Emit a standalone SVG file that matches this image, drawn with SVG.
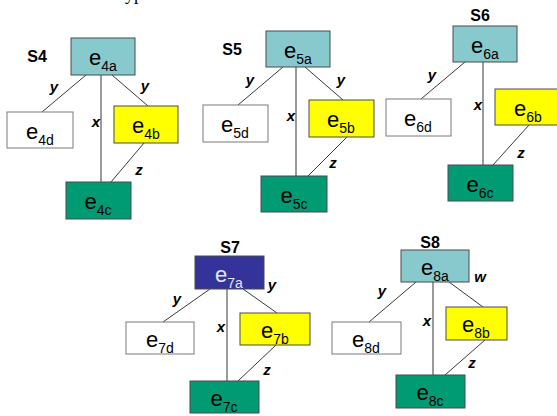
<svg xmlns="http://www.w3.org/2000/svg" width="557" height="416" viewBox="0 0 557 416">
  <style>
    .box { stroke: #4a4a4a; stroke-width: 1; }
    .teal { fill: #88C9CD; }
    .yellow { fill: #FFFF00; }
    .green { fill: #009B72; }
    .white { fill: #FFFFFF; stroke: #7a7a7a; }
    .navy { fill: #333399; }
    .lbl { font-family: "Liberation Sans", Arial, sans-serif; font-size: 22px; fill: #000; text-anchor: middle; }
    .lbl tspan { font-size: 14px; }
    .lbl.light { fill: #E6E6FF; }
    .edge { font-family: "Liberation Sans", Arial, sans-serif; font-size: 15px; font-weight: bold; font-style: italic; fill: #000; text-anchor: middle; }
    .title { font-family: "Liberation Sans", Arial, sans-serif; font-size: 16px; font-weight: bold; fill: #000; text-anchor: middle; }
    .diag { stroke: #3a3a3a; stroke-width: 1; fill: none; }
    .vert { stroke: #9a9a9a; stroke-width: 2; fill: none; }
  </style>

  <rect width="557" height="416" fill="#FFFFFF"/>

  <!-- descenders of a heading line cut off by the top edge -->
  <text x="134" y="0" font-family="'Liberation Serif', serif" font-size="18" text-anchor="middle" fill="#000">yp</text>

  <!-- connectors -->
  <g id="connectors">
    <!-- S4 -->
    <line class="diag" x1="86" y1="75" x2="42" y2="112"/>
    <line class="diag" x1="112" y1="75" x2="148" y2="106"/>
    <line class="vert" x1="101" y1="75" x2="101" y2="182"/>
    <line class="diag" x1="144" y1="143" x2="111" y2="182"/>
    <!-- S5 -->
    <line class="diag" x1="283" y1="67" x2="238" y2="105"/>
    <line class="diag" x1="305" y1="67" x2="343" y2="100"/>
    <line class="vert" x1="296" y1="67" x2="296" y2="176"/>
    <line class="diag" x1="347" y1="137" x2="308" y2="176"/>
    <!-- S6 -->
    <line class="diag" x1="465" y1="62" x2="421" y2="99"/>
    <line class="vert" x1="483" y1="62" x2="483" y2="165"/>
    <line class="diag" x1="529" y1="125" x2="493" y2="165"/>
    <!-- S7 -->
    <line class="diag" x1="210" y1="289" x2="163" y2="322"/>
    <line class="diag" x1="243" y1="289" x2="277" y2="313"/>
    <line class="vert" x1="227" y1="289" x2="227" y2="381"/>
    <line class="diag" x1="276" y1="345" x2="238" y2="381"/>
    <!-- S8 -->
    <line class="diag" x1="416" y1="282" x2="369" y2="322"/>
    <line class="diag" x1="449" y1="282" x2="483" y2="307"/>
    <line class="vert" x1="433" y1="282" x2="433" y2="375"/>
    <line class="diag" x1="485" y1="340" x2="445" y2="375"/>

    <!-- edge labels -->
    <text class="edge" x="54" y="92">y</text>
    <text class="edge" x="145" y="91">y</text>
    <text class="edge" x="96" y="127">x</text>
    <text class="edge" x="139" y="175">z</text>

    <text class="edge" x="250" y="85">y</text>
    <text class="edge" x="341" y="85">y</text>
    <text class="edge" x="291" y="121">x</text>
    <text class="edge" x="333" y="168">z</text>

    <text class="edge" x="432" y="80">y</text>
    <text class="edge" x="478" y="110">x</text>
    <text class="edge" x="521" y="158">z</text>

    <text class="edge" x="177" y="304">y</text>
    <text class="edge" x="272" y="290">y</text>
    <text class="edge" x="221" y="332">x</text>
    <text class="edge" x="267" y="375">z</text>

    <text class="edge" x="382" y="296">y</text>
    <text class="edge" x="480" y="282">w</text>
    <text class="edge" x="427" y="326">x</text>
    <text class="edge" x="472" y="368">z</text>
  </g>

  <!-- cluster titles -->
  <text class="title" x="37" y="62">S4</text>
  <text class="title" x="232" y="55">S5</text>
  <text class="title" x="480" y="21">S6</text>
  <text class="title" x="230" y="253">S7</text>
  <text class="title" x="430" y="248">S8</text>

  <!-- S4 nodes -->
  <g id="e4a"><rect class="box teal" x="71" y="38" width="64" height="37"/><text class="lbl" x="103" y="65">e<tspan dy="6">4a</tspan></text></g>
  <g id="e4d"><rect class="box white" x="7" y="112" width="66" height="36"/><text class="lbl" x="40" y="139">e<tspan dy="6">4d</tspan></text></g>
  <g id="e4b"><rect class="box yellow" x="114" y="106" width="64" height="37"/><text class="lbl" x="146" y="133">e<tspan dy="6">4b</tspan></text></g>
  <g id="e4c"><rect class="box green" x="66" y="182" width="65" height="37"/><text class="lbl" x="98" y="209">e<tspan dy="6">4c</tspan></text></g>

  <!-- S5 nodes -->
  <g id="e5a"><rect class="box teal" x="266" y="31" width="64" height="36"/><text class="lbl" x="298" y="58">e<tspan dy="6">5a</tspan></text></g>
  <g id="e5d"><rect class="box white" x="203" y="105" width="65" height="37"/><text class="lbl" x="235" y="132">e<tspan dy="6">5d</tspan></text></g>
  <g id="e5b"><rect class="box yellow" x="309" y="100" width="65" height="37"/><text class="lbl" x="341" y="127">e<tspan dy="6">5b</tspan></text></g>
  <g id="e5c"><rect class="box green" x="261" y="176" width="66" height="36"/><text class="lbl" x="294" y="203">e<tspan dy="6">5c</tspan></text></g>

  <!-- S6 nodes -->
  <g id="e6a"><rect class="box teal" x="453" y="26" width="64" height="36"/><text class="lbl" x="485" y="53">e<tspan dy="6">6a</tspan></text></g>
  <g id="e6d"><rect class="box white" x="386" y="99" width="65" height="37"/><text class="lbl" x="418" y="126">e<tspan dy="6">6d</tspan></text></g>
  <g id="e6b"><rect class="box yellow" x="495" y="89" width="66" height="36"/><text class="lbl" x="528" y="116">e<tspan dy="6">6b</tspan></text></g>
  <g id="e6c"><rect class="box green" x="448" y="165" width="65" height="36"/><text class="lbl" x="480" y="192">e<tspan dy="6">6c</tspan></text></g>

  <!-- S7 nodes -->
  <g id="e7a"><rect class="box navy" x="195" y="256" width="69" height="33"/><text class="lbl light" x="229" y="282">e<tspan dy="6">7a</tspan></text></g>
  <g id="e7d"><rect class="box white" x="126" y="322" width="68" height="32"/><text class="lbl" x="160" y="347">e<tspan dy="6">7d</tspan></text></g>
  <g id="e7b"><rect class="box yellow" x="240" y="313" width="70" height="32"/><text class="lbl" x="275" y="338">e<tspan dy="6">7b</tspan></text></g>
  <g id="e7c"><rect class="box green" x="190" y="381" width="69" height="32"/><text class="lbl" x="224" y="406">e<tspan dy="6">7c</tspan></text></g>

  <!-- S8 nodes -->
  <g id="e8a"><rect class="box teal" x="401" y="250" width="68" height="32"/><text class="lbl" x="435" y="275">e<tspan dy="6">8a</tspan></text></g>
  <g id="e8d"><rect class="box white" x="332" y="322" width="69" height="32"/><text class="lbl" x="366" y="347">e<tspan dy="6">8d</tspan></text></g>
  <g id="e8b"><rect class="box yellow" x="446" y="307" width="61" height="33"/><text class="lbl" x="476" y="332">e<tspan dy="6">8b</tspan></text></g>
  <g id="e8c"><rect class="box green" x="396" y="375" width="69" height="33"/><text class="lbl" x="430" y="400">e<tspan dy="6">8c</tspan></text></g>
</svg>
